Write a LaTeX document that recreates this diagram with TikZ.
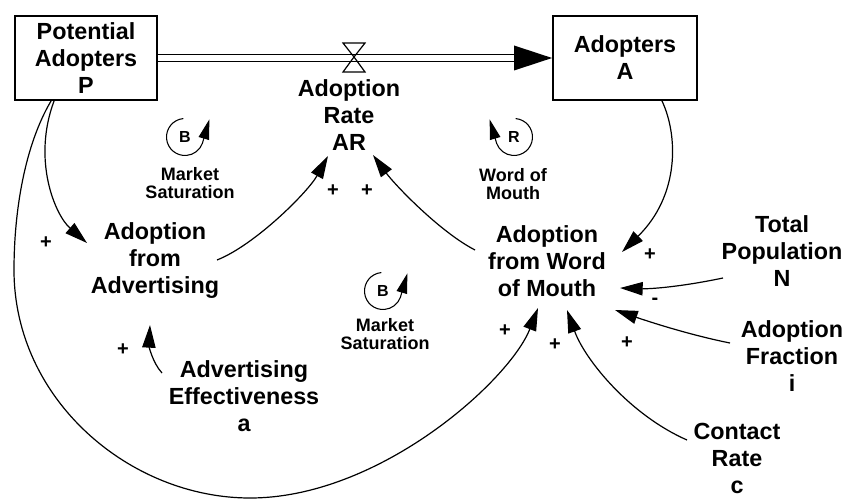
\documentclass[tikz,border=0pt]{standalone}
\usepackage{fontspec}
\setmainfont{Liberation Sans}
\usetikzlibrary{arrows.meta,calc}
\begin{document}
\begin{tikzpicture}[x=0.75pt,y=-0.75pt,
  lbl/.style={font=\bfseries\fontsize{17.5}{20.25}\selectfont, align=center, inner sep=0pt},
  stock/.style={draw, line width=1.4pt, minimum width=106.5pt, minimum height=63pt,
                font=\bfseries\fontsize{17.5}{20.25}\selectfont, align=center, inner sep=0pt},
  small/.style={font=\bfseries\fontsize{13.5}{13.5}\selectfont, align=center, inner sep=0pt},
  looplbl/.style={font=\bfseries\fontsize{12}{12}\selectfont, inner sep=0pt},
  sign/.style={font=\bfseries\fontsize{15}{15}\selectfont, inner sep=0pt},
  link/.style={line width=0.9pt, -{Triangle[length=17pt,width=10pt]}},
  loopline/.style={line width=0.8pt, -{Triangle[length=15pt,width=8pt]}},
  pipe/.style={line width=1.1pt, double, double distance=4pt}
]
\useasboundingbox (0,0) rectangle (845,499);

% stocks and variables
\node[stock] (P) at (86,58) {Potential\\Adopters\\P};
\node[stock, minimum width=108pt] (A) at (625,58) {Adopters\\A};
\coordinate (V) at (354,57);
\node[lbl] (AR) at (349,115) {Adoption\\Rate\\AR};
\node[lbl] (adv) at (155,261) {Adoption\\from\\Advertising};
\node[lbl] (wom) at (547,261) {Adoption\\from Word\\of Mouth};
\node[lbl] (N) at (782,251) {Total\\Population\\N};
\node[lbl] (fr) at (792,356) {Adoption\\Fraction\\i};
\node[lbl] (c) at (737,458) {Contact\\Rate\\c};
\node[lbl] (ae) at (244,396) {Advertising\\Effectiveness\\a};

% flow pipe with valve
\draw[pipe] (P.east) -- ($(A.west)+(-36,0)$);
\fill (A.west) -- ++(-38,-12.5) -- ++(0,25) -- cycle;
\draw[line width=0.9pt] (V) -- ++(-11,-14) -- ++(22,0) -- cycle
                        (V) -- ++(-11,15) -- ++(22,0) -- cycle;

% causal links
\draw[link] ($(P.south west)+(40,0)$) .. controls (32,160) and (55,215) .. ($(adv.center)+(-68,-18)$);
\draw[link] ($(P.south west)+(37,0)$) .. controls (25,145) and (14,210) .. (14,270)
            .. controls (14,400) and (130,498) .. (250,498)
            .. controls (380,498) and (510,380) .. ($(wom.center)+(-9,47)$);
\draw[link] ($(adv.center)+(62,-1)$) .. controls (255,245) and (308,192) .. ($(AR.center)+(-21,41)$);
\draw[link] ($(wom.center)+(-72,-11)$) .. controls (440,232) and (395,185) .. ($(AR.center)+(24,40)$);
\draw[link] ($(A.south)+(37,0)$) .. controls (678,135) and (680,195) .. ($(wom.center)+(75,-9)$);
\draw[link] ($(N.center)+(-59,27)$) .. controls (680,287) and (650,289) .. ($(wom.center)+(73,27)$);
\draw[link] ($(fr.center)+(-62,-13)$) .. controls (690,335) and (650,322) .. ($(wom.center)+(68,49)$);
\draw[link] ($(c.center)+(-50,-18)$) .. controls (630,415) and (585,360) .. ($(wom.center)+(20,49)$);
\draw[link] ($(ae.center)+(-82,-23)$) .. controls (152,362) and (149,345) .. ($(adv.center)+(-5,64)$);

% polarity signs
\node[sign] (s1) at (46,243) {+};
\node[sign] (s2) at (123,350) {+};
\node[sign] (s3) at (333,191) {+};
\node[sign] (s4) at (367,191) {+};
\node[sign] (s5) at (650,255) {+};
\node[sign] (s6) at (655,301) {-};
\node[sign] (s7) at (627,343) {+};
\node[sign] (s8) at (555,345) {+};
\node[sign] (s9) at (505,331) {+};

% loop identifiers
\coordinate (L1) at (185,137);
\node[looplbl] (L1t) at (L1) {B};
\draw[loopline] ($(L1)+(265:18.5)$) arc[start angle=265, end angle=20, radius=18.5] -- ++(7,-24);
\node[small] (L1n) at (190,183) {Market\\Saturation};

\coordinate (L2) at (514,137);
\node[looplbl] (L2t) at (L2) {R};
\draw[loopline] ($(L2)+(275:18.5)$) arc[start angle=275, end angle=520, radius=18.5] -- ++(-7,-24);
\node[small] (L2n) at (513,184) {Word of\\Mouth};

\coordinate (L3) at (383,291);
\node[looplbl] (L3t) at (L3) {B};
\draw[loopline] ($(L3)+(265:18.5)$) arc[start angle=265, end angle=20, radius=18.5] -- ++(7,-24);
\node[small] (L3n) at (385,334) {Market\\Saturation};
\end{tikzpicture}
\end{document}
